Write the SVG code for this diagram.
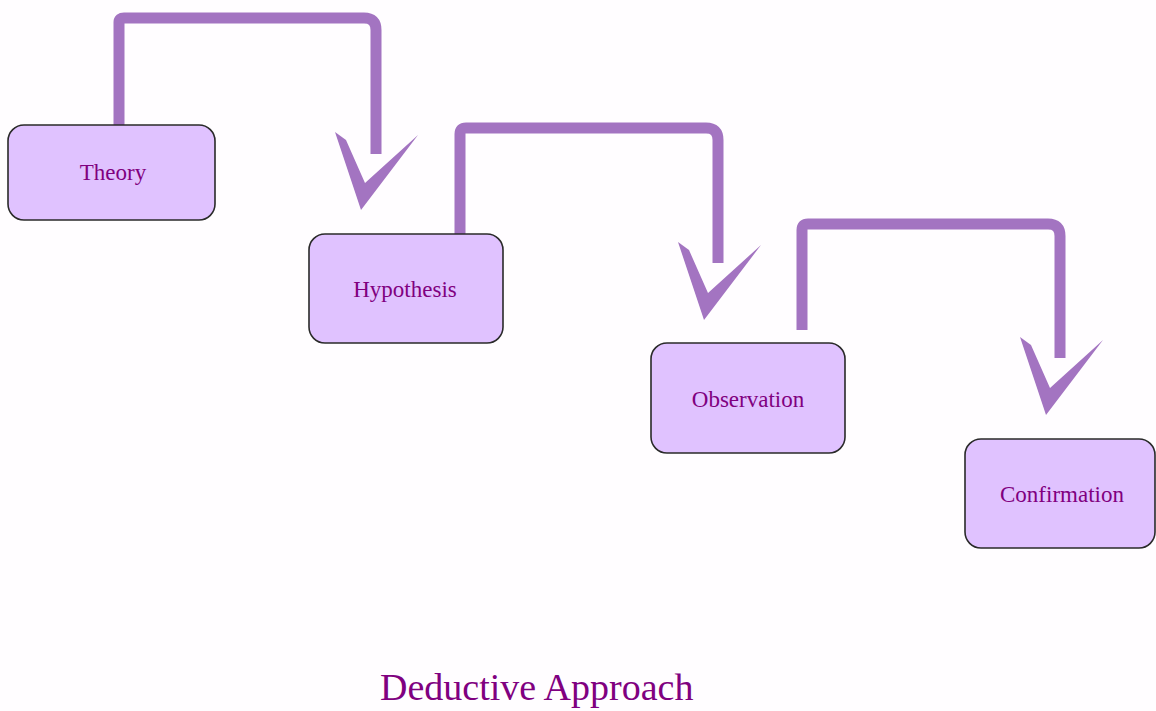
<svg xmlns="http://www.w3.org/2000/svg" width="1156" height="711" viewBox="0 0 1156 711">
<style>
.box{fill:#E0C2FF;stroke:#2a2a2a;stroke-width:1.6}
.lbl{font-family:"Liberation Serif",serif;font-size:23px;fill:#800080;text-anchor:middle}
.conn{fill:none;stroke:#A374C1;stroke-width:11;stroke-linejoin:round;stroke-linecap:butt}
.head{fill:#A374C1}
.title{font-family:"Liberation Serif",serif;font-size:38px;fill:#800080}
</style>
<defs>
<path id="chev" d="M-27,-78 L-1,0 L56,-75 L3,-27 L-16,-70 Z"/>
</defs>
<rect width="1156" height="711" fill="#FFFDFF"/>
<g id="connectors">
<path class="conn" d="M119,126 V22 Q119,18 124,18 H364 Q376,18 376,30 V154"/>
<use href="#chev" class="head" transform="translate(362,210)"/>
<path class="conn" d="M460,234 V134 Q460,128 466,128 H706 Q718,128 718,140 V263"/>
<use href="#chev" class="head" transform="translate(705,320)"/>
<path class="conn" d="M802,330 V230 Q802,224 808,224 H1048 Q1060,224 1060,236 V358"/>
<use href="#chev" class="head" transform="translate(1047,415)"/>
</g>
<g id="theory">
<rect class="box" x="8" y="125" width="207" height="95" rx="16"/>
<text class="lbl" x="113" y="180">Theory</text>
</g>
<g id="hypothesis">
<rect class="box" x="309" y="234" width="194" height="109" rx="16"/>
<text class="lbl" x="405" y="297">Hypothesis</text>
</g>
<g id="observation">
<rect class="box" x="651" y="343" width="194" height="110" rx="16"/>
<text class="lbl" x="748" y="407">Observation</text>
</g>
<g id="confirmation">
<rect class="box" x="965" y="439" width="190" height="109" rx="16"/>
<text class="lbl" x="1062" y="502">Confirmation</text>
</g>
<g id="title">
<text class="title" x="380" y="700">Deductive Approach</text>
</g>
</svg>
